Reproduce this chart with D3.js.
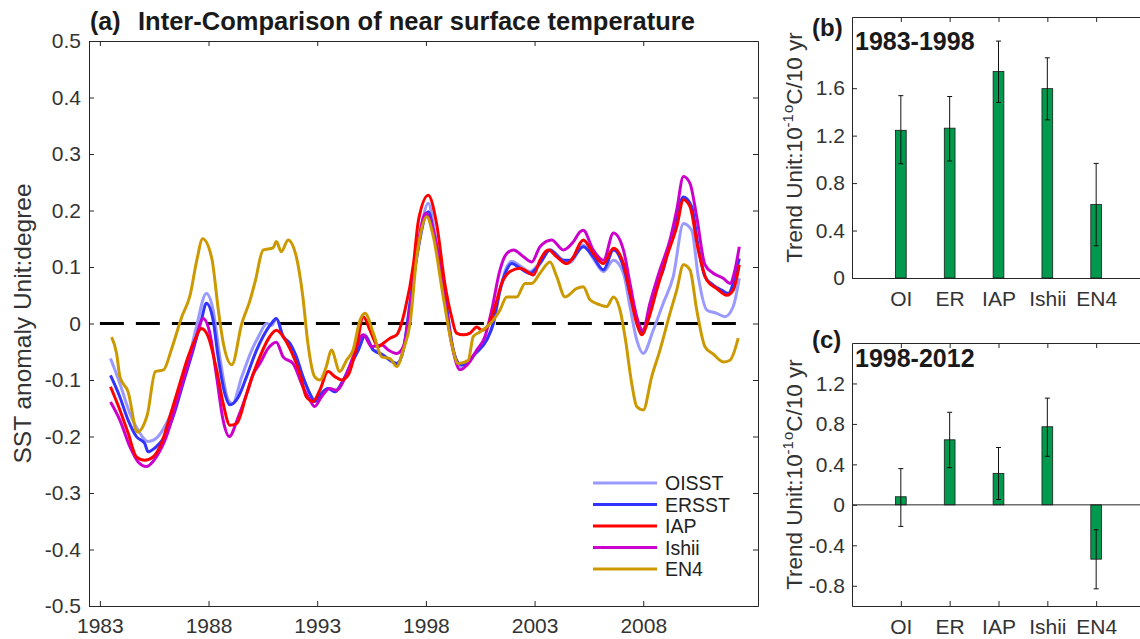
<!DOCTYPE html>
<html>
<head>
<meta charset="utf-8">
<script src="https://cdn.jsdelivr.net/npm/d3@7"></script>
<style>
body { margin: 0; background: #fff; }
text { font-family: "Liberation Sans", Arial, Helvetica, sans-serif; }
.axis path, .axis line { stroke: #262626; stroke-width: 1; }
.axis text { fill: #333; }
</style>
</head>
<body>
<svg id="chart" width="1140" height="639"></svg>
<script>
// ---- data ----
var seriesNames = ["OISST", "ERSST", "IAP", "Ishii", "EN4"];
var yearTicks = [1983, 1988, 1993, 1998, 2003, 2008];
var anomalyTicks = [-0.5, -0.4, -0.3, -0.2, -0.1, 0, 0.1, 0.2, 0.3, 0.4, 0.5];
var zeroLineYears = [1983, 2012.8];

// [year, SST anomaly]
var oisst = [[1983.49,-0.062],[1983.92,-0.106],[1984.38,-0.159],[1984.84,-0.194],[1985.22,-0.209],[1985.60,-0.203],
    [1986.06,-0.177],[1986.52,-0.135],[1986.98,-0.082],[1987.44,-0.006],[1987.90,0.053],[1988.21,0.024],[1988.52,-0.059],
    [1988.90,-0.135],[1989.10,-0.142],[1989.53,-0.094],[1989.99,-0.047],[1990.30,-0.023],[1990.68,0.000],[1990.91,-0.003],
    [1991.12,0.009],[1991.43,-0.023],[1991.74,-0.035],[1992.04,-0.059],[1992.34,-0.094],[1992.66,-0.124],[1992.88,-0.135],
    [1993.19,-0.124],[1993.50,-0.115],[1993.81,-0.121],[1994.12,-0.106],[1994.50,-0.076],[1994.89,-0.047],[1995.20,-0.020],
    [1995.58,-0.047],[1995.81,-0.050],[1996.04,-0.056],[1996.35,-0.065],[1996.66,-0.071],[1996.96,-0.047],[1997.27,0.036],
    [1997.58,0.118],[1998.11,0.213],[1998.41,0.160],[1998.80,0.071],[1999.26,-0.047],[1999.57,-0.076],[1999.80,-0.075],
    [2000.26,-0.055],[2000.80,-0.029],[2001.10,0.000],[2001.41,0.059],[2001.72,0.100],[2001.95,0.110],[2002.33,0.102],
    [2002.79,0.092],[2003.25,0.108],[2003.71,0.130],[2004.32,0.112],[2004.63,0.108],[2005.24,0.139],[2005.70,0.115],
    [2006.17,0.092],[2006.63,0.112],[2007.09,0.089],[2007.39,0.030],[2007.70,-0.029],[2008.00,-0.053],[2008.46,-0.012],
    [2008.92,0.036],[2009.38,0.083],[2009.85,0.177],[2010.23,0.165],[2010.53,0.083],[2010.92,0.024],[2011.38,0.018],
    [2011.76,0.012],[2012.14,0.030],[2012.42,0.080]];

var ersst = [[1983.49,-0.092],[1983.92,-0.130],[1984.30,-0.171],[1984.68,-0.200],[1985.06,-0.212],[1985.22,-0.227],
    [1985.60,-0.218],[1985.98,-0.200],[1986.37,-0.165],[1986.83,-0.106],[1987.29,-0.047],[1987.67,0.006],[1987.90,0.036],
    [1988.21,0.006],[1988.44,-0.059],[1988.75,-0.124],[1988.98,-0.144],[1989.37,-0.130],[1989.75,-0.094],[1990.21,-0.047],
    [1990.51,-0.023],[1990.89,0.000],[1991.12,0.009],[1991.43,-0.023],[1991.74,-0.035],[1992.04,-0.059],[1992.34,-0.094],
    [1992.66,-0.124],[1992.88,-0.138],[1993.19,-0.124],[1993.50,-0.115],[1993.81,-0.121],[1994.12,-0.106],[1994.50,-0.076],
    [1994.89,-0.047],[1995.20,-0.022],[1995.58,-0.047],[1996.04,-0.056],[1996.35,-0.065],[1996.66,-0.071],[1996.96,-0.047],
    [1997.27,0.036],[1997.58,0.118],[1998.11,0.198],[1998.41,0.150],[1998.80,0.071],[1999.26,-0.047],[1999.57,-0.072],
    [1999.80,-0.073],[2000.26,-0.053],[2000.80,-0.029],[2001.10,0.000],[2001.41,0.059],[2001.72,0.095],[2001.95,0.106],
    [2002.33,0.098],[2002.79,0.089],[2003.25,0.106],[2003.71,0.130],[2004.32,0.112],[2004.63,0.112],[2005.24,0.136],
    [2005.70,0.118],[2006.17,0.095],[2006.63,0.130],[2007.09,0.100],[2007.39,0.053],[2007.70,0.006],[2007.93,-0.015],
    [2008.16,0.000],[2008.46,0.053],[2008.92,0.095],[2009.23,0.142],[2009.54,0.189],[2009.85,0.224],[2010.23,0.207],
    [2010.53,0.136],[2010.84,0.083],[2011.22,0.068],[2011.61,0.059],[2011.91,0.053],[2012.22,0.083],[2012.42,0.115]];

var iap = [[1983.49,-0.112],[1983.92,-0.153],[1984.30,-0.194],[1984.68,-0.236],[1985.06,-0.242],[1985.45,-0.236],
    [1985.83,-0.212],[1986.22,-0.165],[1986.68,-0.106],[1987.06,-0.059],[1987.37,-0.029],[1987.67,-0.009],[1987.98,-0.023],
    [1988.37,-0.082],[1988.67,-0.141],[1988.98,-0.180],[1989.29,-0.177],[1989.75,-0.125],[1990.05,-0.090],[1990.36,-0.059],
    [1990.82,-0.023],[1991.12,-0.012],[1991.43,-0.023],[1991.81,-0.050],[1992.20,-0.088],[1992.50,-0.130],[1992.81,-0.138],
    [1993.12,-0.118],[1993.50,-0.085],[1993.81,-0.094],[1994.12,-0.100],[1994.43,-0.091],[1994.81,-0.041],[1995.12,0.012],
    [1995.43,-0.012],[1995.81,-0.041],[1996.04,-0.035],[1996.35,-0.026],[1996.66,-0.020],[1997.04,0.024],[1997.43,0.106],
    [1997.66,0.183],[1998.11,0.227],[1998.49,0.177],[1998.87,0.071],[1999.18,0.012],[1999.41,-0.017],[1999.72,-0.020],
    [2000.03,-0.017],[2000.34,-0.006],[2000.57,-0.012],[2000.88,-0.003],[2001.18,0.030],[2001.49,0.071],[2001.87,0.092],
    [2002.33,0.098],[2002.95,0.086],[2003.25,0.112],[2003.64,0.130],[2004.02,0.118],[2004.48,0.106],[2004.79,0.118],
    [2005.09,0.142],[2005.24,0.148],[2005.70,0.124],[2006.17,0.106],[2006.63,0.133],[2007.09,0.106],[2007.39,0.053],
    [2007.70,0.000],[2007.93,-0.020],[2008.23,0.006],[2008.62,0.059],[2009.08,0.118],[2009.54,0.171],[2009.85,0.219],
    [2010.15,0.207],[2010.53,0.130],[2010.92,0.077],[2011.38,0.062],[2011.84,0.050],[2012.14,0.059],[2012.42,0.104]];

var ishii = [[1983.49,-0.139],[1983.92,-0.171],[1984.38,-0.218],[1984.76,-0.245],[1985.14,-0.253],[1985.60,-0.236],
    [1986.06,-0.200],[1986.52,-0.141],[1986.98,-0.082],[1987.44,-0.023],[1987.75,0.009],[1988.06,-0.017],[1988.37,-0.094],
    [1988.67,-0.171],[1988.95,-0.200],[1989.37,-0.165],[1989.75,-0.125],[1990.05,-0.090],[1990.36,-0.071],[1990.74,-0.044],
    [1991.12,-0.033],[1991.43,-0.059],[1991.89,-0.071],[1992.34,-0.112],[1992.66,-0.135],[1992.88,-0.147],[1993.19,-0.130],
    [1993.58,-0.115],[1993.88,-0.118],[1994.27,-0.097],[1994.65,-0.059],[1995.12,-0.020],[1995.50,-0.041],[1995.97,-0.038],
    [1996.27,-0.047],[1996.66,-0.053],[1996.96,-0.041],[1997.27,0.024],[1997.58,0.124],[1997.99,0.195],[1998.41,0.154],
    [1998.80,0.059],[1999.18,-0.035],[1999.57,-0.082],[1999.95,-0.071],[2000.34,-0.047],[2000.72,-0.023],[2001.03,0.024],
    [2001.41,0.095],[2001.72,0.124],[2002.03,0.130],[2002.49,0.118],[2002.87,0.109],[2003.25,0.136],[2003.79,0.148],
    [2004.32,0.130],[2004.79,0.145],[2005.09,0.162],[2005.24,0.165],[2005.70,0.130],[2006.17,0.112],[2006.63,0.160],
    [2007.09,0.130],[2007.39,0.071],[2007.70,0.012],[2007.98,-0.012],[2008.31,0.036],[2008.77,0.095],[2009.23,0.148],
    [2009.54,0.201],[2009.85,0.260],[2010.15,0.248],[2010.46,0.189],[2010.84,0.104],[2011.22,0.089],[2011.68,0.080],
    [2011.99,0.071],[2012.22,0.095],[2012.42,0.136]];

var en4 = [[1983.54,-0.024],[1983.77,-0.053],[1983.92,-0.094],[1984.30,-0.121],[1984.72,-0.192],[1985.18,-0.162],
    [1985.55,-0.085],[1985.93,-0.082],[1986.30,-0.045],[1986.77,0.012],[1987.15,0.050],[1987.46,0.112],[1987.73,0.150],
    [1988.15,0.115],[1988.45,0.024],[1988.68,-0.035],[1989.07,-0.073],[1989.53,0.000],[1989.90,0.040],[1990.15,0.075],
    [1990.51,0.130],[1990.97,0.134],[1991.12,0.145],[1991.35,0.127],[1991.66,0.148],[1992.04,0.118],[1992.34,0.047],
    [1992.57,-0.035],[1992.88,-0.094],[1993.12,-0.100],[1993.42,-0.076],[1993.65,-0.047],[1994.04,-0.085],[1994.35,-0.065],
    [1994.65,-0.047],[1994.97,0.006],[1995.20,0.018],[1995.58,-0.017],[1995.97,-0.059],[1996.35,-0.062],[1996.66,-0.076],
    [1996.96,-0.047],[1997.27,0.000],[1997.58,0.118],[1997.73,0.154],[1998.04,0.189],[1998.34,0.154],[1998.80,0.047],
    [1999.18,-0.035],[1999.49,-0.071],[1999.95,-0.065],[2000.18,-0.023],[2000.49,-0.015],[2000.80,-0.006],[2001.10,0.006],
    [2001.41,0.024],[2001.72,0.047],[2002.18,0.047],[2002.56,0.071],[2002.87,0.071],[2003.25,0.089],[2003.71,0.109],
    [2004.02,0.083],[2004.40,0.047],[2004.94,0.062],[2005.24,0.065],[2005.55,0.042],[2006.01,0.033],[2006.32,0.030],
    [2006.63,0.047],[2006.93,0.024],[2007.16,-0.023],[2007.47,-0.106],[2007.70,-0.147],[2008.00,-0.153],[2008.39,-0.094],
    [2008.77,-0.047],[2009.23,0.018],[2009.54,0.059],[2009.85,0.104],[2010.15,0.095],[2010.46,0.024],[2010.84,-0.041],
    [2011.22,-0.054],[2011.68,-0.068],[2011.99,-0.065],[2012.37,-0.026]];

// trends (10^-1 C / 10 yr) with error bar limits
var trendLabels = ["OI", "ER", "IAP", "Ishii", "EN4"];
var trend8398 = [1.245, 1.263, 1.74, 1.596, 0.619];
var low8398 = [0.963, 0.986, 1.48, 1.333, 0.271];
var high8398 = [1.537, 1.53, 1.997, 1.856, 0.966];
var trend9812 = [0.08, 0.643, 0.311, 0.772, -0.537];
var low9812 = [-0.213, 0.368, 0.053, 0.48, -0.83];
var high9812 = [0.358, 0.915, 0.567, 1.055, -0.246];
var trendTicksB = [0, 0.4, 0.8, 1.2, 1.6];
var trendTicksC = [-0.8, -0.4, 0, 0.4, 0.8, 1.2];

var colors = ["#9999ff", "#3333ff", "#ff0000", "#cc00cc", "#cc9900"];
var seriesData = [oisst, ersst, iap, ishii, en4];
var drawOrder = [0, 1, 3, 2, 4];

var svg = d3.select("#chart");
var fmt = function (d) { return d === 0 ? "0" : String(d); };

// ---- panel (a) ----
var m = { left: 89, top: 41, right: 758, bottom: 606 };
var x = d3.scaleLinear().domain([1982.5, 2013.28]).range([m.left, m.right]);
var y = d3.scaleLinear().domain([-0.5, 0.5]).range([m.bottom, m.top]);

svg.append("g").attr("class", "axis").attr("transform", "translate(0," + m.bottom + ")")
    .call(d3.axisBottom(x).tickValues(yearTicks).tickSize(-5).tickSizeOuter(0).tickPadding(12).tickFormat(d3.format("d")))
    .selectAll("text").style("font-size", "21px");
svg.append("g").attr("class", "axis").attr("transform", "translate(0," + m.top + ")")
    .call(d3.axisTop(x).tickValues(yearTicks).tickSize(-5).tickSizeOuter(0).tickFormat(""));
svg.append("g").attr("class", "axis").attr("transform", "translate(" + m.left + ",0)")
    .call(d3.axisLeft(y).tickValues(anomalyTicks).tickSize(-5).tickSizeOuter(0).tickPadding(8).tickFormat(fmt))
    .selectAll("text").style("font-size", "21px");
svg.append("g").attr("class", "axis").attr("transform", "translate(" + m.right + ",0)")
    .call(d3.axisRight(y).tickValues(anomalyTicks).tickSize(-5).tickSizeOuter(0).tickFormat(""));

svg.append("line")
    .attr("x1", x(zeroLineYears[0])).attr("x2", x(zeroLineYears[1]))
    .attr("y1", y(0)).attr("y2", y(0))
    .attr("stroke", "#000").attr("stroke-width", 3).attr("stroke-dasharray", "24,12");

var line = d3.line()
    .x(function (d) { return x(d[0]); })
    .y(function (d) { return y(d[1]); })
    .curve(d3.curveMonotoneX);

drawOrder.forEach(function (i) {
    svg.append("path")
        .datum(seriesData[i])
        .attr("d", line)
        .attr("fill", "none")
        .attr("stroke", colors[i])
        .attr("stroke-width", 3)
        .attr("stroke-linejoin", "round");
});

// legend
var legend = svg.selectAll(".legend")
    .data(seriesNames)
    .enter()
    .append("g")
    .attr("class", "legend")
    .attr("transform", function (d, i) { return "translate(593," + (483 + i * 21.5) + ")"; });
legend.append("line")
    .attr("x1", 0).attr("x2", 64)
    .attr("stroke", function (d, i) { return colors[i]; })
    .attr("stroke-width", 3);
legend.append("text")
    .attr("x", 72).attr("dy", "0.36em")
    .style("font-size", "19.5px").style("fill", "#222")
    .text(function (d) { return d; });

svg.append("text").attr("x", 90).attr("y", 30)
    .style("font-size", "25px").style("font-weight", "bold").style("fill", "#1a1a1a")
    .text("(a)");
svg.append("text").attr("x", 138).attr("y", 30)
    .style("font-size", "25.5px").style("font-weight", "bold").style("fill", "#1a1a1a")
    .text("Inter-Comparison of near surface temperature");

svg.append("text")
    .attr("transform", "translate(31," + ((m.top + m.bottom) / 2) + ") rotate(-90)")
    .attr("text-anchor", "middle")
    .style("font-size", "24.5px").style("fill", "#333")
    .text("SST anomaly Unit:degree");

// ---- panels (b) and (c) ----
function barPanel(box, yDomain, yTicks, values, low, high, tag, period, tagY, periodY) {
    var xb = d3.scaleLinear().domain([0, 6]).range([box.left, box.right]);
    var yb = d3.scaleLinear().domain(yDomain).range([box.bottom, box.top]);
    var cats = d3.range(1, trendLabels.length + 1);

    svg.append("g").attr("class", "axis").attr("transform", "translate(0," + box.bottom + ")")
        .call(d3.axisBottom(xb).tickValues(cats).tickSize(-5).tickSizeOuter(0).tickPadding(13)
            .tickFormat(function (d) { return trendLabels[d - 1]; }))
        .selectAll("text").style("font-size", "21px");
    svg.append("g").attr("class", "axis").attr("transform", "translate(0," + box.top + ")")
        .call(d3.axisTop(xb).tickValues(cats).tickSize(-5).tickSizeOuter(0).tickFormat(""));
    svg.append("g").attr("class", "axis").attr("transform", "translate(" + box.left + ",0)")
        .call(d3.axisLeft(yb).tickValues(yTicks).tickSize(-5).tickSizeOuter(0).tickPadding(7).tickFormat(fmt))
        .selectAll("text").style("font-size", "21px");
    svg.append("g").attr("class", "axis").attr("transform", "translate(" + box.right + ",0)")
        .call(d3.axisRight(yb).tickValues(yTicks).tickSize(-5).tickSizeOuter(0).tickFormat(""));

    var bw = xb(0.22) - xb(0);
    svg.selectAll(null)
        .data(values)
        .enter()
        .append("rect")
        .attr("x", function (d, i) { return xb(i + 1) - bw / 2; })
        .attr("y", function (d) { return yb(Math.max(0, d)); })
        .attr("width", bw)
        .attr("height", function (d) { return Math.abs(yb(d) - yb(0)); })
        .attr("fill", "#00994d")
        .attr("stroke", "#1a1a1a")
        .attr("stroke-width", 0.8);

    if (yDomain[0] < 0) {
        svg.append("line")
            .attr("x1", box.left).attr("x2", box.right)
            .attr("y1", yb(0)).attr("y2", yb(0))
            .attr("stroke", "#262626").attr("stroke-width", 1);
    }

    var err = svg.selectAll(null)
        .data(values)
        .enter()
        .append("g")
        .attr("transform", function (d, i) { return "translate(" + xb(i + 1) + ",0)"; });
    err.append("line")
        .attr("y1", function (d, i) { return yb(low[i]); })
        .attr("y2", function (d, i) { return yb(high[i]); })
        .attr("stroke", "#111").attr("stroke-width", 1);
    [low, high].forEach(function (lim) {
        err.append("line")
            .attr("x1", -2.5).attr("x2", 2.5)
            .attr("y1", function (d, i) { return yb(lim[i]); })
            .attr("y2", function (d, i) { return yb(lim[i]); })
            .attr("stroke", "#111").attr("stroke-width", 1);
    });

    svg.append("text").attr("x", 812).attr("y", tagY)
        .style("font-size", "24px").style("font-weight", "bold").style("fill", "#1a1a1a")
        .text(tag);
    svg.append("text").attr("x", 855).attr("y", periodY)
        .style("font-size", "25px").style("font-weight", "bold").style("fill", "#1a1a1a")
        .text(period);

    var lab = svg.append("text")
        .attr("transform", "translate(802," + ((box.top + box.bottom) / 2) + ") rotate(-90)")
        .attr("text-anchor", "middle")
        .style("font-size", "22.5px").style("fill", "#333");
    lab.append("tspan").text("Trend Unit:10");
    lab.append("tspan").attr("dy", -9).style("font-size", "15px").text("-1");
    lab.append("tspan").attr("dx", 1).style("font-size", "15px").text("o");
    lab.append("tspan").attr("dy", 9).text("C/10 yr");
}

barPanel({ left: 852, top: 17, right: 1145, bottom: 278 }, [0, 2.2], trendTicksB,
    trend8398, low8398, high8398, "(b)", "1983-1998", 36, 50);
barPanel({ left: 852, top: 343, right: 1145, bottom: 606 }, [-1, 1.6], trendTicksC,
    trend9812, low9812, high9812, "(c)", "1998-2012", 348, 367);
</script>
</body>
</html>
